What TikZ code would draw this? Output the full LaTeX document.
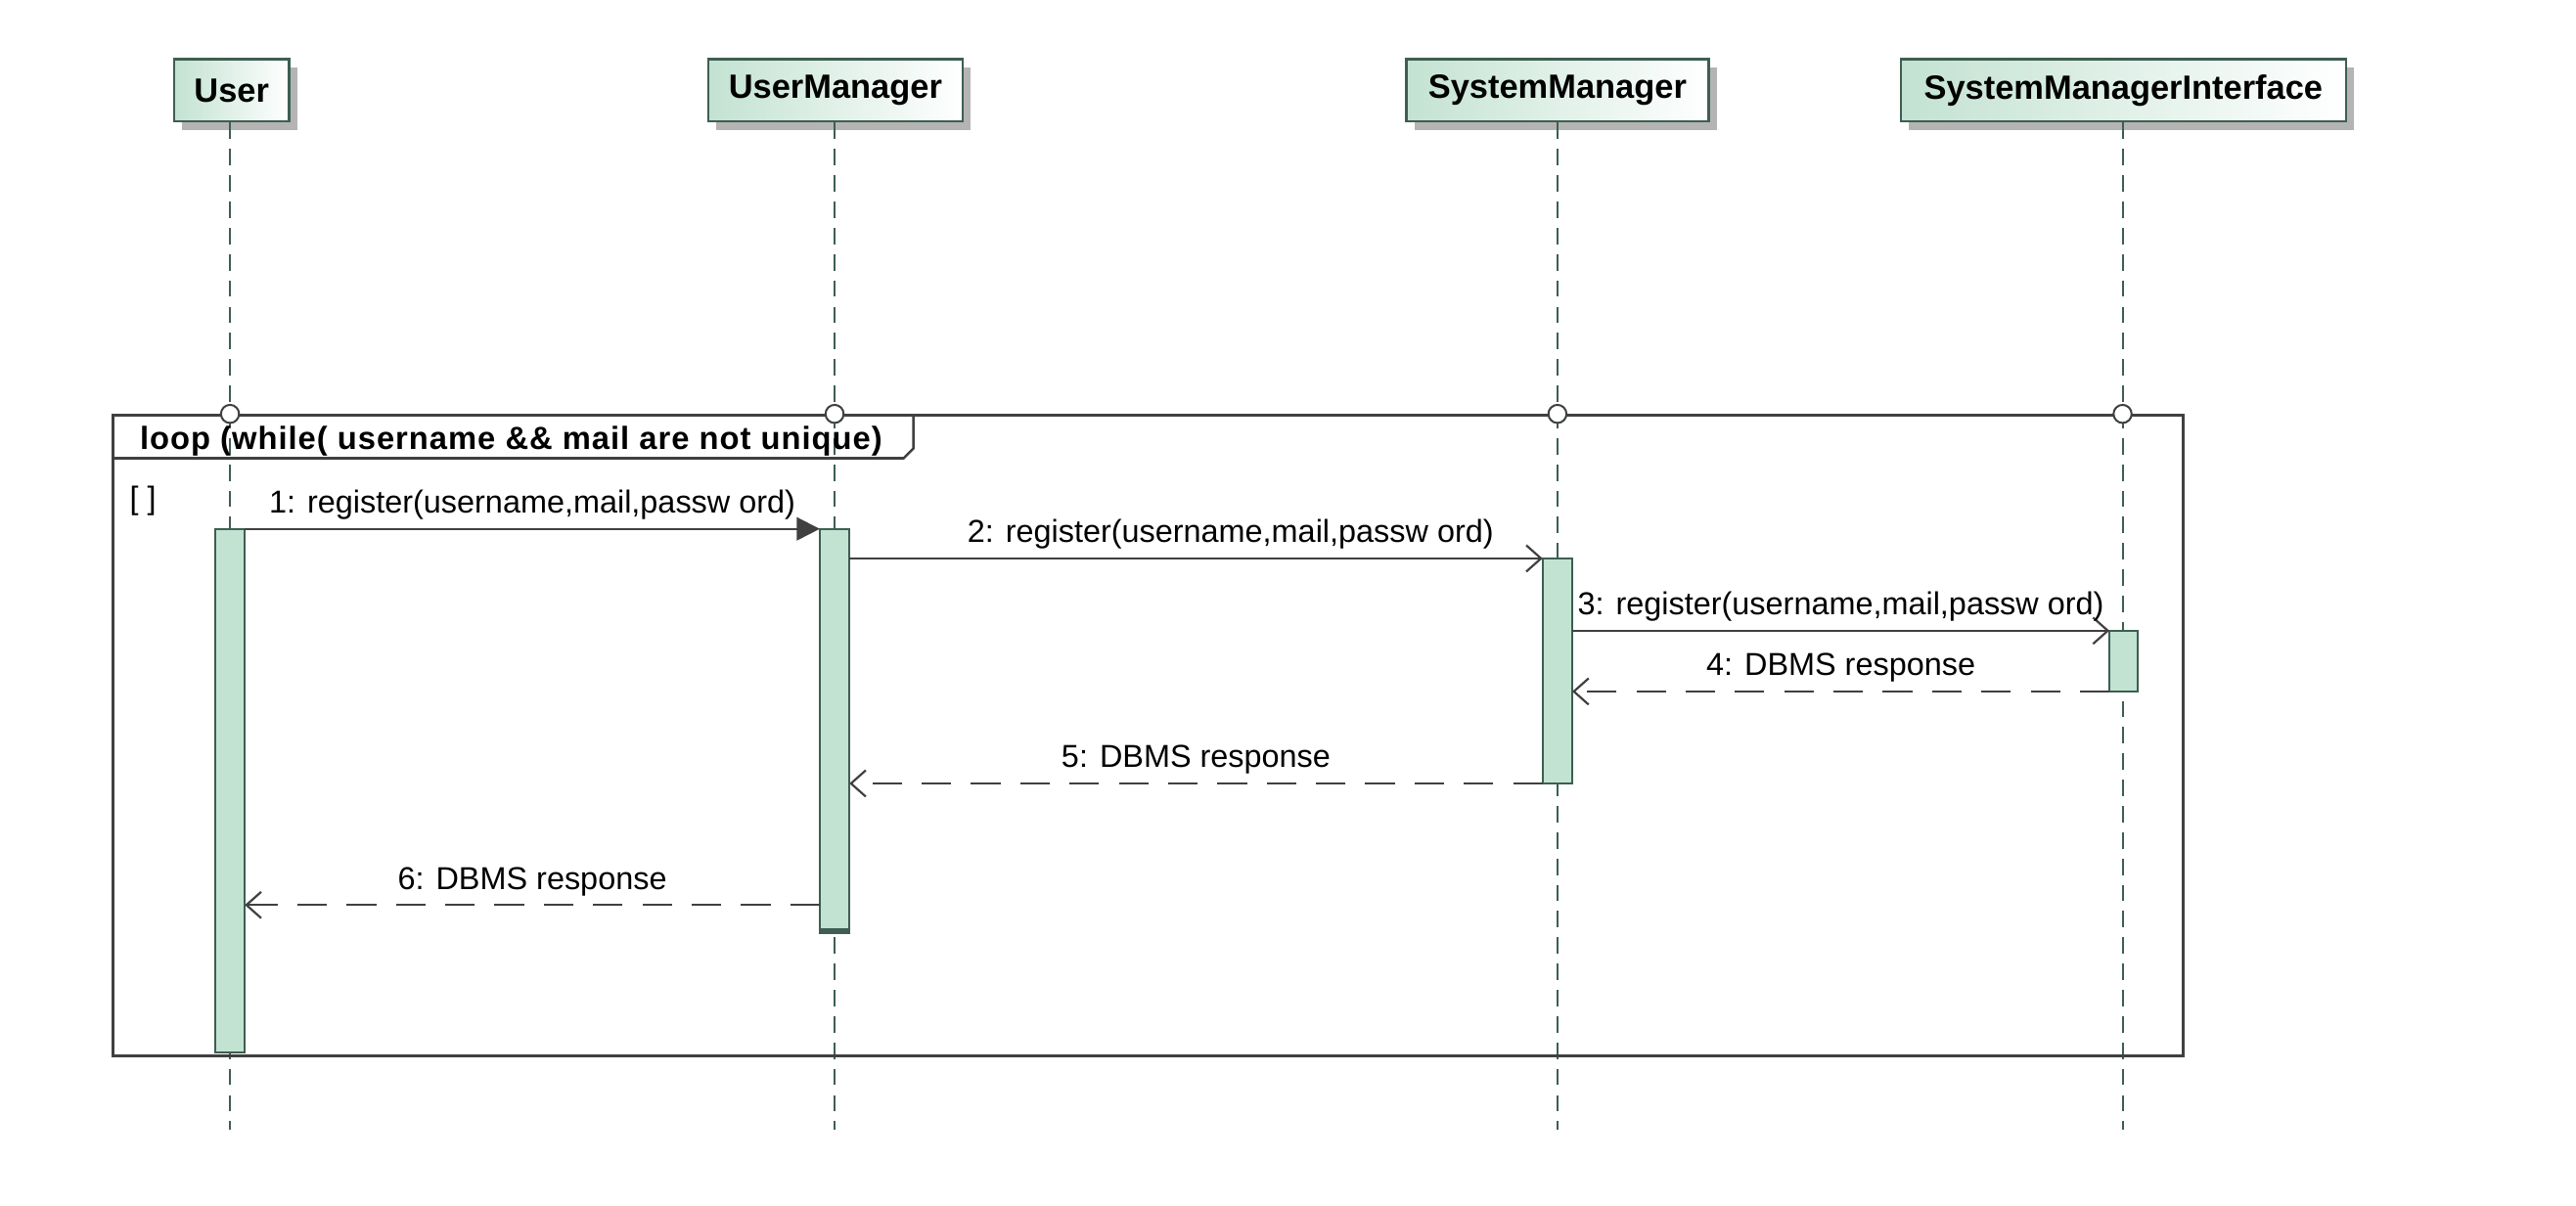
\documentclass[tikz,border=0pt]{standalone}
\usepackage{fontspec}
\setmainfont{Liberation Sans}
\usetikzlibrary{arrows.meta,shadows}
\definecolor{headG}{HTML}{C3E2D2}
\definecolor{borderG}{HTML}{3E5E52}
\definecolor{actFill}{HTML}{C2E3D2}
\definecolor{lifeC}{HTML}{3E5E52}
\definecolor{msgC}{HTML}{404040}
\definecolor{shadowC}{HTML}{B4B4B4}
\tikzset{
  head/.style={draw=borderG, line width=1.4pt, left color=headG, right color=white,
    minimum height=38pt, inner sep=0pt, font=\fontsize{20.5}{23}\selectfont\bfseries,
    drop shadow={shadow xshift=5pt, shadow yshift=-5pt, fill=shadowC, opacity=1}},
  lifeline/.style={draw=lifeC, line width=1.2pt, dash pattern=on 10pt off 6pt},
  act/.style={draw=borderG, line width=1.2pt, fill=actFill, minimum width=18pt, inner sep=0pt, outer sep=0pt, anchor=north},
  msg/.style={draw=msgC, line width=1.3pt},
  ret/.style={draw=msgC, line width=1.3pt, dash pattern=on 18pt off 12pt},
  openhead/.style={-{Straight Barb[length=9pt,width=16pt,line width=1.3pt]}},
  lbl/.style={font=\fontsize{19.3}{22}\selectfont, inner sep=0pt, text=black},
  lifecirc/.style={circle, draw=msgC, line width=1.2pt, fill=white, minimum size=11pt, inner sep=0pt},
  frame/.style={draw=msgC, line width=1.5pt}
}
\begin{document}
\begin{tikzpicture}[x=1pt,y=-1pt]
\useasboundingbox[fill=white] (0,0) rectangle (1568,734);

% lifeline end coordinates
\coordinate (uEnd) at (140,688);
\coordinate (umEnd) at (508,688);
\coordinate (smEnd) at (948,688);
\coordinate (smiEnd) at (1292,688);

% headers
\node[head, minimum width=70pt] (user) at (141,55) {User};
\node[head, minimum width=155pt] (um) at (508.5,55) {UserManager};
\node[head, minimum width=184pt] (sm) at (948,55) {SystemManager};
\node[head, minimum width=271pt] (smi) at (1292.5,55) {SystemManagerInterface};

% lifelines
\draw[lifeline] (user.south -| uEnd) -- (uEnd);
\draw[lifeline] (um.south -| umEnd) -- (umEnd);
\draw[lifeline] (sm.south -| smEnd) -- (smEnd);
\draw[lifeline] (smi.south -| smiEnd) -- (smiEnd);

% loop frame
\node[frame, minimum width=1260pt, minimum height=390pt, inner sep=0pt, anchor=north west] (loop) at (68,252) {};
\node[font=\fontsize{19.5}{22}\selectfont\bfseries\addfontfeature{LetterSpace=3}, anchor=west, inner sep=0pt] (loopT) at (85,268.5) {loop (while( username \&\& mail are not unique)};
\coordinate (tabR) at (556,252);
\draw[frame] (tabR) -- ++(0,21) -- ++(-6,6) -- (loop.west |- 0,279);
\node[lbl] (guard) at (87,305) {[ ]};

% circles on frame
\node[lifecirc] (c1) at (140,252) {};
\node[lifecirc] (c2) at (508,252) {};
\node[lifecirc] (c3) at (948,252) {};
\node[lifecirc] (c4) at (1292,252) {};

% activations
\node[act, minimum height=319pt] (aU) at (140,322) {};
\node[act, minimum height=246pt] (aUM) at (508,322) {};
\draw[draw=borderG, line width=3pt] ([xshift=0.6pt,yshift=1.5pt]aUM.south west) -- ([xshift=-0.6pt,yshift=1.5pt]aUM.south east);
\node[act, minimum height=137pt] (aSM) at (948,340) {};
\node[act, minimum height=37pt, minimum width=17pt] (aSMI) at (1292.5,384) {};

% messages
\draw[msg, -{Triangle[length=14pt,width=14pt]}] (aU.north east) -- node[lbl, above=5pt] (l1) {1: register(username,mail,passw ord)} (aUM.north west);
\draw[msg, openhead] ([yshift=-18pt]aUM.north east) -- node[lbl, above=5pt, xshift=21pt] (l2) {2: register(username,mail,passw ord)} (aSM.north west);
\draw[msg, openhead] ([yshift=-44pt]aSM.north east) -- node[lbl, above=5pt] (l3) {3: register(username,mail,passw ord)} (aSMI.north west);
\draw[ret, openhead] (aSMI.south west) -- node[lbl, above=5pt] (l4) {4: DBMS response} ([yshift=-81pt]aSM.north east);
\draw[ret, openhead] (aSM.south west) -- node[lbl, above=5pt] (l5) {5: DBMS response} ([yshift=-155pt]aUM.north east);
\draw[ret, openhead] ([yshift=-229pt]aUM.north west) -- node[lbl, above=5pt] (l6) {6: DBMS response} ([yshift=-229pt]aU.north east);
\end{tikzpicture}
\end{document}
